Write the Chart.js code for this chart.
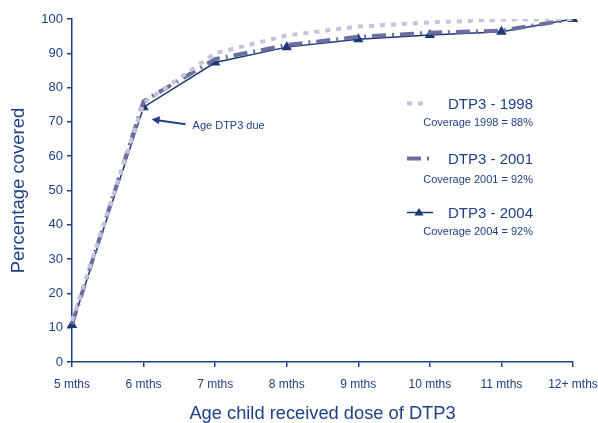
<!DOCTYPE html>
<html>
<head>
<meta charset="utf-8">
<script src="https://cdn.jsdelivr.net/npm/chart.js@4"></script>
<style>
html,body{margin:0;padding:0;background:#fff;}
#wrap{width:598px;height:423px;position:relative;}
</style>
</head>
<body>
<div id="wrap"><canvas id="c" width="598" height="423"></canvas></div>
<script>
const categories = ['5 mths','6 mths','7 mths','8 mths','9 mths','10 mths','11 mths','12+ mths'];
const dtp1998 = [12, 75.5, 90, 95.2, 97.8, 99, 99.8, 100];
const dtp2001 = [11, 76, 88.3, 92.4, 94.8, 96, 96.6, 100];
const dtp2004 = [10.8, 74.3, 87.3, 91.8, 94.1, 95.3, 96.3, 100];
const seriesNames = ['DTP3 - 1998','DTP3 - 2001','DTP3 - 2004'];
const coverageNotes = ['Coverage 1998 = 88%','Coverage 2001 = 92%','Coverage 2004 = 92%'];
const yTicks = [0,10,20,30,40,50,60,70,80,90,100];
const annotationText = 'Age DTP3 due';

const NAVY = '#1f3f86';
const C1998 = '#c4c4da';
const C2001 = '#6a6fa2';
const C2004 = '#1b3872';
const FONT = '"Liberation Sans", Arial, sans-serif';

const overlay = {
  id: 'overlay',
  afterDraw(chart) {
    const ctx = chart.ctx;
    const xs = chart.scales.x, ys = chart.scales.y;
    ctx.save();
    // annotation arrow
    const hx = xs.getPixelForValue(1) + 8, hy = ys.getPixelForValue(70.8);
    const tx = hx + 34, ty = hy + 5;
    ctx.strokeStyle = NAVY; ctx.fillStyle = NAVY; ctx.lineWidth = 2;
    ctx.beginPath(); ctx.moveTo(tx, ty); ctx.lineTo(hx + 6, hy + 1); ctx.stroke();
    const ang = Math.atan2(hy - ty, hx - tx);
    ctx.beginPath();
    ctx.moveTo(hx, hy);
    ctx.lineTo(hx - 8*Math.cos(ang) + 4*Math.sin(ang), hy - 8*Math.sin(ang) - 4*Math.cos(ang));
    ctx.lineTo(hx - 8*Math.cos(ang) - 4*Math.sin(ang), hy - 8*Math.sin(ang) + 4*Math.cos(ang));
    ctx.closePath(); ctx.fill();
    ctx.font = '11px ' + FONT; ctx.textAlign = 'left'; ctx.textBaseline = 'middle';
    ctx.fillText(annotationText, tx + 7, ty + 2);

    // legend
    const ca = chart.chartArea;
    const right = ca.right - 40;
    const sx = ca.left + 335;
    const rows = [105, 160, 214];
    const styles = [
      {c: C1998, w: 4, dash: [5,6]},
      {c: C2001, w: 4, dash: [14,6,2,6]},
      {c: C2004, w: 1.5, dash: []}
    ];
    rows.forEach((ry, i) => {
      const st = styles[i];
      ctx.strokeStyle = st.c; ctx.lineWidth = st.w; ctx.setLineDash(st.dash);
      ctx.beginPath(); ctx.moveTo(sx, ry - 1.5); ctx.lineTo(i === 2 ? sx + 26 : (i===1? sx+25 : sx + 17), ry - 1.5); ctx.stroke();
      ctx.setLineDash([]);
      if (i === 2) {
        ctx.fillStyle = C2004;
        const px = sx + 12, py = ry - 1.5;
        ctx.beginPath(); ctx.moveTo(px, py - 4.5); ctx.lineTo(px + 4.5, py + 3); ctx.lineTo(px - 4.5, py + 3); ctx.closePath(); ctx.fill();
      }
      ctx.fillStyle = NAVY;
      ctx.textAlign = 'right'; ctx.textBaseline = 'middle';
      ctx.font = '15px ' + FONT;
      ctx.fillText(seriesNames[i], right, ry);
      ctx.font = '11px ' + FONT;
      ctx.fillText(coverageNotes[i], right, ry + (i === 1 ? 20 : 18));
    });
    ctx.restore();
  }
};

new Chart(document.getElementById('c'), {
  type: 'line',
  data: {
    labels: categories,
    datasets: [
      {label: seriesNames[0], data: dtp1998, borderColor: C1998, borderWidth: 4, borderDash: [5,6], pointRadius: 0, tension: 0, fill: false},
      {label: seriesNames[1], data: dtp2001, borderColor: C2001, borderWidth: 4, borderDash: [14,6,2,6], pointRadius: 0, tension: 0, fill: false},
      {label: seriesNames[2], data: dtp2004, borderColor: C2004, borderWidth: 1.5, pointStyle: 'triangle', pointRadius: 4.5, pointBackgroundColor: C2004, pointBorderColor: C2004, tension: 0, fill: false}
    ]
  },
  options: {
    responsive: false,
    animation: false,
    devicePixelRatio: 1,
    layout: {padding: {top: 19, right: 25, left: 0, bottom: 0}},
    plugins: {legend: {display: false}, tooltip: {enabled: false}},
    scales: {
      x: {
        type: 'category',
        offset: false,
        afterFit(scale) { scale.height = 61; scale.paddingLeft = 0; scale.paddingRight = 0; },
        grid: {display: true, drawOnChartArea: false, drawTicks: true, tickLength: 5, color: NAVY, lineWidth: 1.5},
        border: {display: true, color: NAVY, width: 1.5},
        ticks: {color: NAVY, font: {family: FONT, size: 12}, padding: 10, maxRotation: 0, autoSkip: false},
        title: {display: true, text: 'Age child received dose of DTP3', color: NAVY, font: {family: FONT, size: 18.3, lineHeight: 1}, padding: {top: 0, bottom: 0}}
      },
      y: {
        min: 0, max: 100,
        afterBuildTicks(scale) { scale.ticks = yTicks.map(v => ({value: v})); },
        afterFit(scale) { scale.width = 72; scale.paddingTop = 0; scale.paddingBottom = 0; },
        grid: {display: true, drawOnChartArea: false, drawTicks: true, tickLength: 5, color: NAVY, lineWidth: 1.5},
        border: {display: true, color: NAVY, width: 1.5},
        ticks: {color: NAVY, font: {family: FONT, size: 13}, padding: 4},
        title: {display: true, text: 'Percentage covered', color: NAVY, font: {family: FONT, size: 18.5, lineHeight: 1.2}, padding: {top: 8, bottom: 0}}
      }
    }
  },
  plugins: [overlay]
});
</script>
</body>
</html>
